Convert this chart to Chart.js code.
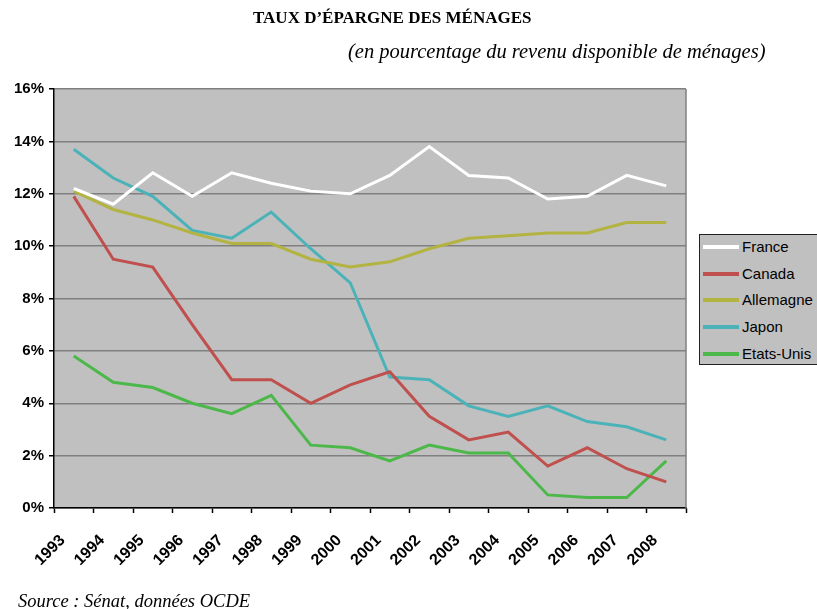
<!DOCTYPE html>
<html>
<head>
<meta charset="utf-8">
<script src="https://cdn.jsdelivr.net/npm/chart.js@4.4.1/dist/chart.umd.min.js"></script>
<style>
  html, body { margin:0; padding:0; background:#fff; width:817px; height:609px; overflow:hidden; }
  #wrap { position:relative; width:817px; height:609px; overflow:hidden; }
  canvas { position:absolute; left:0; top:0; }
  .t { position:absolute; white-space:nowrap; color:#000; }
  #title { left:253px; top:8px; font:bold 17px "Liberation Serif", serif; }
  #subtitle { left:348px; top:40px; font:italic 20.5px "Liberation Serif", serif; }
  #source { left:18px; top:591px; font:italic 18.5px "Liberation Serif", serif; }
  #legend { position:absolute; left:699px; top:234px; width:150px; height:131px; background:#C0C0C0; border:1.5px solid #222; box-sizing:border-box; }
  .item { position:absolute; left:3px; height:20px; font:15px "Liberation Sans", Arial, sans-serif; line-height:20px; white-space:nowrap; }
  .sw { position:absolute; left:0; top:8px; width:36px; height:4px; }
  .lab { position:absolute; left:39px; top:0; white-space:nowrap; }
</style>
</head>
<body>
<div id="wrap">
  <canvas id="c" width="817" height="609"></canvas>
  <div class="t" id="title">TAUX D’ÉPARGNE DES MÉNAGES</div>
  <div class="t" id="subtitle">(en pourcentage du revenu disponible de ménages)</div>
  <div class="t" id="source">Source : Sénat, données OCDE</div>
  <div id="legend"></div>
</div>
<script>
const years = ['1993','1994','1995','1996','1997','1998','1999','2000','2001','2002','2003','2004','2005','2006','2007','2008'];
const france     = [12.2, 11.6, 12.8, 11.9, 12.8, 12.4, 12.1, 12.0, 12.7, 13.8, 12.7, 12.6, 11.8, 11.9, 12.7, 12.3];
const canada     = [11.9, 9.5, 9.2, 7.0, 4.9, 4.9, 4.0, 4.7, 5.2, 3.5, 2.6, 2.9, 1.6, 2.3, 1.5, 1.0];
const allemagne  = [12.1, 11.4, 11.0, 10.5, 10.1, 10.1, 9.5, 9.2, 9.4, 9.9, 10.3, 10.4, 10.5, 10.5, 10.9, 10.9];
const japon      = [13.7, 12.6, 11.9, 10.6, 10.3, 11.3, 9.9, 8.6, 5.0, 4.9, 3.9, 3.5, 3.9, 3.3, 3.1, 2.6];
const etatsUnis  = [5.8, 4.8, 4.6, 4.0, 3.6, 4.3, 2.4, 2.3, 1.8, 2.4, 2.1, 2.1, 0.5, 0.4, 0.4, 1.8];
const seriesNames = ['France','Canada','Allemagne','Japon','Etats-Unis'];
const seriesColors = ['#FFFFFF','#C0504D','#B3B342','#4BB3B8','#4DB84A'];
const yTicks = [0, 2, 4, 6, 8, 10, 12, 14, 16];

const seriesData = [france, canada, allemagne, japon, etatsUnis];
const datasets = seriesNames.map((n, i) => ({
  label: n, data: seriesData[i], borderColor: seriesColors[i], backgroundColor: seriesColors[i],
  borderWidth: 3, pointRadius: 0, tension: 0, fill: false
}));

const plotBg = {
  id: 'plotBg',
  beforeDraw(chart) {
    const {ctx, chartArea: a} = chart;
    ctx.save();
    ctx.fillStyle = '#C0C0C0';
    ctx.fillRect(a.left, a.top, a.right - a.left, a.bottom - a.top);
    ctx.restore();
  },
  afterDraw(chart) {
    const {ctx, chartArea: a} = chart;
    ctx.save();
    ctx.strokeStyle = '#808080';
    ctx.lineWidth = 1.5;
    ctx.beginPath();
    ctx.moveTo(a.right, a.top);
    ctx.lineTo(a.right, a.bottom);
    ctx.stroke();
    ctx.restore();
  }
};

const chart = new Chart(document.getElementById('c'), {
  type: 'line',
  data: { labels: years, datasets },
  options: {
    responsive: false, animation: false,
    layout: { padding: { left: 0, top: 89, right: 131, bottom: 0 } },
    plugins: { legend: { display: false }, tooltip: { enabled: false }, title: { display: false } },
    scales: {
      x: {
        offset: true,
        grid: { display: true, drawOnChartArea: false, offset: true, tickColor: '#000', tickLength: 5, tickWidth: 1.5 },
        border: { color: '#000', width: 1.5 },
        ticks: { color: '#000', font: { family: 'Liberation Sans', size: 16, weight: 'bold' }, minRotation: 45, maxRotation: 45, autoSkip: false, padding: 18, labelOffset: -11 },
        afterFit(s) { s.height = 101; }
      },
      y: {
        min: 0, max: 16,
        afterBuildTicks(s) { s.ticks = yTicks.map(v => ({ value: v })); },
        grid: { color: '#808080', lineWidth: 1.5, tickColor: '#000', tickLength: 5, tickWidth: 1.5 },
        border: { color: '#000', width: 1.5 },
        ticks: { color: '#000', font: { family: 'Liberation Sans', size: 15, weight: 'bold' }, padding: 5, callback: v => v + '%' },
        afterFit(s) { s.width = 54; }
      }
    }
  },
  plugins: [plotBg]
});

// legend built from chart datasets
const leg = document.getElementById('legend');
const itemTops = [2, 29, 55, 82, 109];
chart.data.datasets.forEach((d, i) => {
  const it = document.createElement('div');
  it.className = 'item';
  it.style.top = itemTops[i] + 'px';
  const sw = document.createElement('div');
  sw.className = 'sw';
  sw.style.background = d.borderColor;
  const lb = document.createElement('span');
  lb.className = 'lab';
  lb.textContent = d.label;
  it.appendChild(sw); it.appendChild(lb);
  leg.appendChild(it);
});
</script>
</body>
</html>
